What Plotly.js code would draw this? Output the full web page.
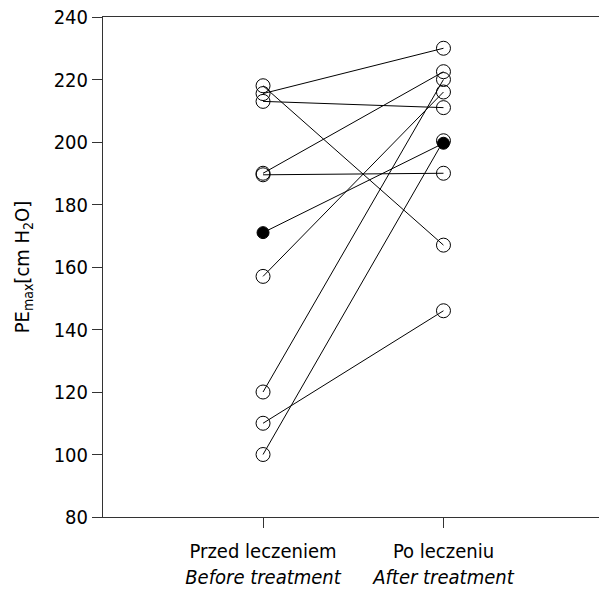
<!DOCTYPE html>
<html>
<head>
<meta charset="utf-8">
<script src="https://cdn.plot.ly/plotly-3.0.1.min.js"></script>
<style>
  html, body { margin: 0; padding: 0; background: #fff; }
  #chart { width: 599px; height: 589px; }
</style>
</head>
<body>
<div id="chart"></div>
<script>
// Group labels (Polish / English)
const groupsPl = ['Przed leczeniem', 'Po leczeniu'];
const groupsEn = ['Before treatment', 'After treatment'];
const groupPos = [0, 1];

// PEmax [cm H2O] per patient, before and after treatment (open circles)
const beforeOpen = [215.5, 218, 213, 190, 189.5, 157, 120, 110, 100];
const afterOpen  = [230, 167, 211, 222.5, 190, 216, 220, 146, 200.4];

// Patient marked with filled circles
const beforeFilled = [171];
const afterFilled  = [199.6];

const yTicks = [80, 100, 120, 140, 160, 180, 200, 220, 240];

const FONT = '"DejaVu Sans Condensed", "Liberation Sans Narrow", sans-serif';
const FS = 20;

// build connecting segments
const allBefore = beforeOpen.concat(beforeFilled);
const allAfter = afterOpen.concat(afterFilled);
const lx = [], ly = [];
for (let i = 0; i < allBefore.length; i++) {
  lx.push(groupPos[0], groupPos[1], null);
  ly.push(allBefore[i], allAfter[i], null);
}

const traces = [
  {
    x: lx, y: ly, type: 'scatter', mode: 'lines',
    line: { color: '#000', width: 1 }, hoverinfo: 'skip', showlegend: false
  },
  {
    x: beforeOpen.map(() => groupPos[0]).concat(afterOpen.map(() => groupPos[1])),
    y: beforeOpen.concat(afterOpen),
    type: 'scatter', mode: 'markers',
    marker: { symbol: 'circle-open', size: 14, color: '#000', line: { width: 1, color: '#000' } },
    showlegend: false
  },
  {
    x: beforeFilled.map(() => groupPos[0]).concat(afterFilled.map(() => groupPos[1])),
    y: beforeFilled.concat(afterFilled),
    type: 'scatter', mode: 'markers',
    marker: { symbol: 'circle', size: 12, color: '#000', line: { width: 1, color: '#000' } },
    showlegend: false
  }
];

const layout = {
  width: 599, height: 589,
  margin: { l: 102.5, r: 0, t: 17, b: 72 },
  paper_bgcolor: '#fff', plot_bgcolor: '#fff',
  font: { family: FONT, size: FS, color: '#000' },
  showlegend: false,
  xaxis: {
    range: [-0.887, 1.862],
    tickvals: groupPos,
    ticktext: groupsPl.map((t, i) => t + '<br><i>' + groupsEn[i] + '</i>'),
    ticks: 'outside', ticklen: 10, tickwidth: 1, tickcolor: '#333',
    ticklabelstandoff: 6,
    showline: true, linecolor: '#333', linewidth: 1, mirror: true,
    showgrid: false, zeroline: false,
    tickfont: { family: FONT, size: FS, color: '#000' }
  },
  yaxis: {
    range: [80, 240],
    tickvals: yTicks,
    ticks: 'outside', ticklen: 10, tickwidth: 1, tickcolor: '#333',
    showline: true, linecolor: '#333', linewidth: 1,
    showgrid: false, zeroline: false,
    tickfont: { family: FONT, size: FS, color: '#000' },
    title: { text: 'PE<sub>max</sub>[cm H<sub>2</sub>O]', font: { family: FONT, size: FS, color: '#000' }, standoff: 18 }
  }
};

Plotly.newPlot('chart', traces, layout, { displayModeBar: false, staticPlot: true });
</script>
</body>
</html>
